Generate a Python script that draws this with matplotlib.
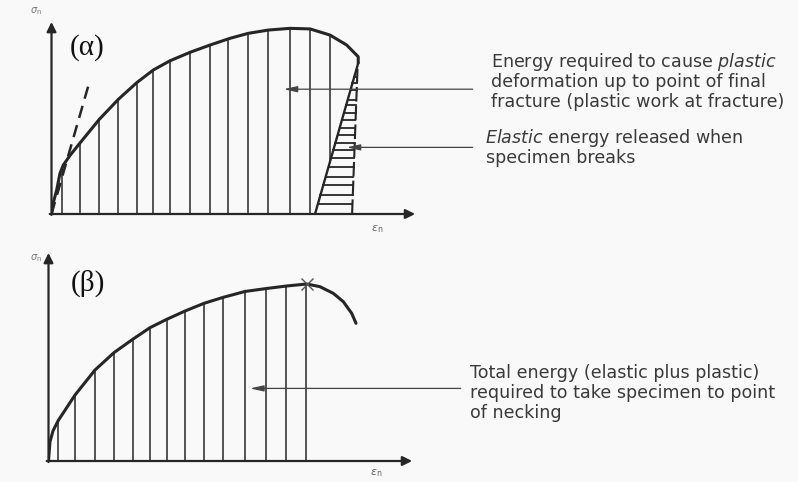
import numpy as np
import matplotlib.pyplot as plt

plt.rcParams["font.family"] = ["DejaVu Sans"]
plt.rcParams["mathtext.fontset"] = "custom"
plt.rcParams["mathtext.rm"] = "DejaVu Sans"
plt.rcParams["mathtext.it"] = "DejaVu Sans:italic"

INK = "#262626"
TXT = "#3a3a3a"
BG = "#f9f9f9"

# panel (a): true stress-strain curve up to fracture (arbitrary units 0-10)
strain_a = [0.0, 0.056, 0.144, 0.236, 0.328, 0.514, 0.792, 1.328, 1.856,
            2.367, 2.828, 3.292, 3.847, 4.403, 4.958, 5.467, 6.022, 6.625,
            7.181, 7.736, 8.20, 8.52, 8.52]
stress_a = [0.0, 0.63, 1.25, 2.12, 2.55, 3.05, 3.70, 4.93, 5.97,
            6.84, 7.50, 7.98, 8.42, 8.80, 9.15, 9.41, 9.58, 9.67,
            9.64, 9.32, 8.80, 8.19, 7.86]
hatch_a = [0.283, 0.792, 1.328, 1.856, 2.367, 2.828, 3.292, 3.847, 4.403,
           4.911, 5.467, 6.022, 6.625, 7.181, 7.736]
elastic_line = ([0.0, 1.022], [0.0, 6.67])
fracture = (8.52, 7.86)
unload_foot = 7.32
release_right = (8.35, 8.50)
elastic_hatch = [0.52, 0.99, 1.51, 1.94, 2.46, 2.90, 3.33, 3.68, 4.11, 4.46,
                 4.90, 5.24, 5.68, 5.94, 6.46, 6.81, 7.15]

# panel (b): curve up to necking
strain_b = [0.0, 0.042, 0.125, 0.272, 0.736, 1.292, 1.819, 2.339, 2.819,
            3.283, 3.792, 4.319, 4.856, 5.458, 6.042, 6.597, 7.172, 7.542,
            7.911, 8.189, 8.422, 8.542]
stress_b = [0.0, 0.93, 1.45, 1.95, 3.17, 4.375, 5.21, 5.85, 6.41,
            6.81, 7.21, 7.58, 7.87, 8.15, 8.29, 8.41, 8.51, 8.38,
            8.06, 7.66, 7.10, 6.62]
hatch_b = [0.272, 0.736, 1.292, 1.819, 2.339, 2.819, 3.283, 3.792, 4.319,
           4.856, 5.458, 6.042, 6.597, 7.15]
necking = (7.18, 8.53)

W, H = 798, 482
fig = plt.figure(figsize=(W / 100, H / 100), dpi=100, facecolor=BG)


def px_text(x, y, s, **kw):
    kw.setdefault("color", TXT)
    kw.setdefault("fontsize", 12.6)
    kw.setdefault("va", "center")
    fig.text(x / W, 1 - y / H, s, **kw)


def make_axes(left, bottom, width, height):
    ax = fig.add_axes([left / W, 1 - bottom / H, width / W, height / H])
    ax.set_xlim(0, 10)
    ax.set_ylim(0, 10)
    ax.axis("off")
    ax.patch.set_alpha(0)
    arrow = dict(arrowstyle="-|>", color=INK, lw=1.6, mutation_scale=14,
                 shrinkA=0, shrinkB=0)
    ax.annotate("", xy=(0, 10), xytext=(0, -0.05), arrowprops=arrow,
                annotation_clip=False)
    ax.annotate("", xy=(10.1, 0), xytext=(-0.05, 0), arrowprops=arrow,
                annotation_clip=False)
    return ax


def pointer(ax, x0, x1, y):
    ax.annotate("", xy=(x1, y), xytext=(x0, y), annotation_clip=False,
                arrowprops=dict(arrowstyle="-|>,head_length=0.8,head_width=0.18",
                                color="#444444", lw=0.9, shrinkA=0, shrinkB=0))


# ---- panel (a)
ax1 = make_axes(51.5, 214, 360, 192)
ax1.plot(strain_a, stress_a, color=INK, lw=2.2, solid_capstyle="round",
         solid_joinstyle="round")
ax1.plot(*elastic_line, color=INK, lw=1.8, dashes=(5, 3))

slope = fracture[1] / (fracture[0] - unload_foot)
for x in hatch_a:
    top = np.interp(x, strain_a[:-1], stress_a[:-1])
    low = max(0.0, (x - unload_foot) * slope)
    ax1.plot([x, x], [low, top], color=INK, lw=1.1)

ax1.plot([fracture[0], unload_foot], [fracture[1], 0], color=INK, lw=1.7)
ax1.plot(release_right, [0, fracture[1] - 0.3], color=INK, lw=1.5,
         dashes=(7, 2))
for y in elastic_hatch:
    xl = unload_foot + y / slope
    xr = release_right[0] + (release_right[1] - release_right[0]) * y / fracture[1]
    ax1.plot([xl, xr], [y, y], color=INK, lw=1.3)

ax1.text(1.0, 8.65, "(α)", family="Liberation Serif", fontsize=21,
         color="#111111", ha="center", va="center")
ax1.text(-0.42, 10.55, r"$\sigma_{\rm n}$", fontsize=7, color="#777777",
         ha="center", va="center", clip_on=False)
ax1.text(9.06, -0.8, r"$\epsilon_{\rm n}$", fontsize=8, color="#666666",
         ha="center", va="center", clip_on=False)
pointer(ax1, 11.7, 6.45, 6.5)
pointer(ax1, 11.7, 8.2, 3.47)

# ---- panel (b)
ax2 = make_axes(48.5, 461, 360, 208)
ax2.plot(strain_b, stress_b, color=INK, lw=2.2, solid_capstyle="round",
         solid_joinstyle="round")
for x in hatch_b:
    top = np.interp(x, strain_b, stress_b)
    ax2.plot([x, x], [0, top], color=INK, lw=1.1)
ax2.plot(*necking, marker="x", color="#555555", ms=9, mew=1.0)
ax2.text(1.1, 8.55, "(β)", family="Liberation Serif", fontsize=21,
         color="#111111", ha="center", va="center")
ax2.text(-0.35, 9.75, r"$\sigma_{\rm n}$", fontsize=7, color="#777777",
         ha="center", va="center", clip_on=False)
ax2.text(9.1, -0.6, r"$\epsilon_{\rm n}$", fontsize=8, color="#666666",
         ha="center", va="center", clip_on=False)
pointer(ax2, 11.45, 5.6, 3.49)

# ---- annotations
px_text(491, 62, r"Energy required to cause $\it{plastic}$")
px_text(491, 82, "deformation up to point of final")
px_text(491, 102, "fracture (plastic work at fracture)")
px_text(485, 138, r"$\it{Elastic}$ energy released when")
px_text(486, 158, "specimen breaks")

px_text(470, 373, "Total energy (elastic plus plastic)")
px_text(470, 393, "required to take specimen to point")
px_text(470, 413, "of necking")

fig.savefig("out.png", dpi=100, facecolor=BG)
